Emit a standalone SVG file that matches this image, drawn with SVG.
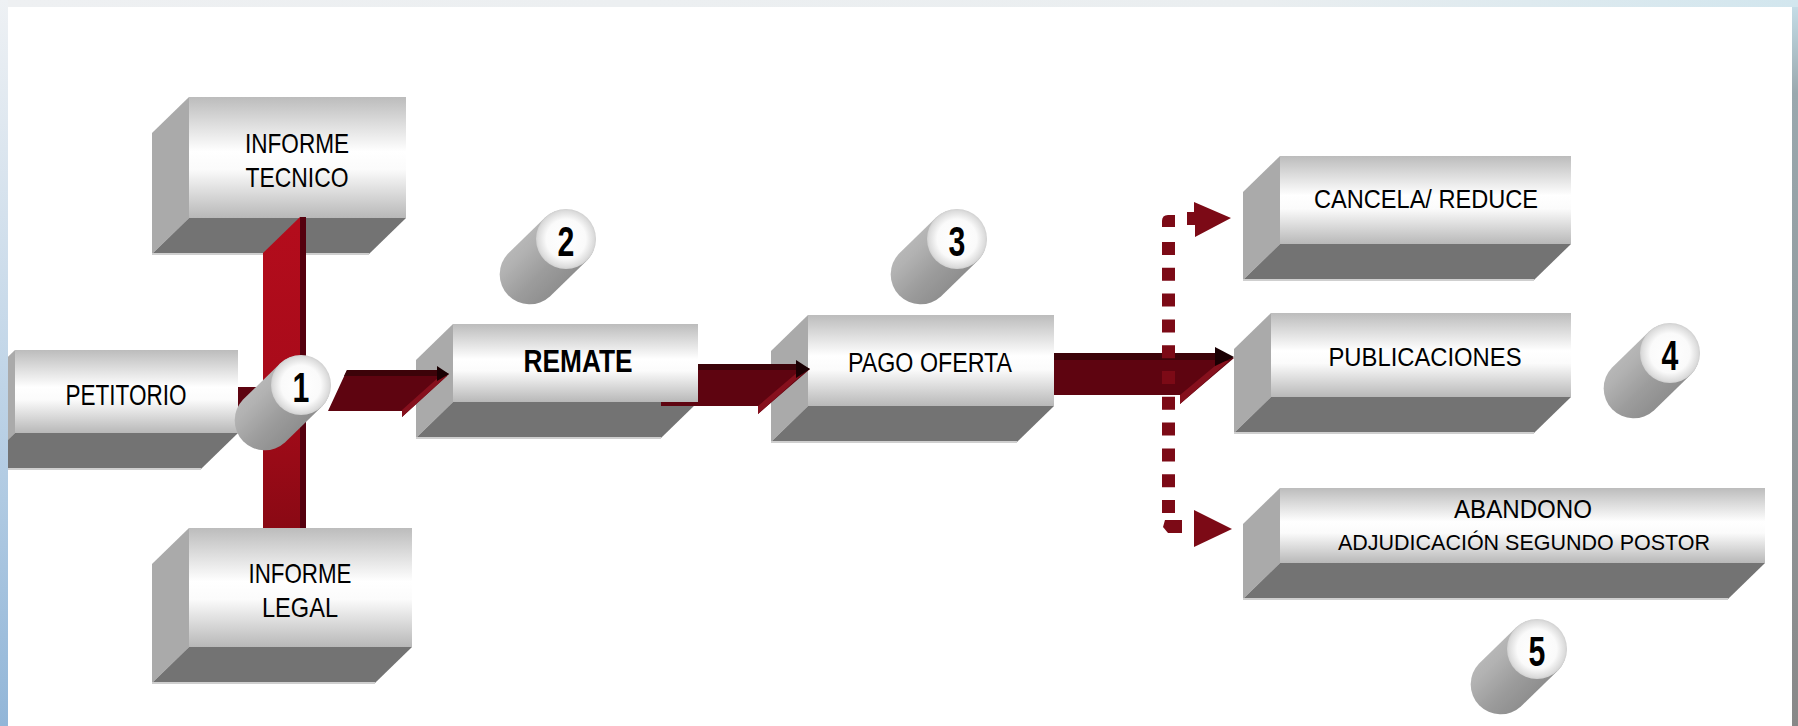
<svg xmlns="http://www.w3.org/2000/svg" width="1798" height="726" viewBox="0 0 1798 726">
<style>
.front{fill:url(#gFront)}
.side{fill:#aaaaaa}
.bot{fill:#737373}
.edge{stroke:#cfcfcf;stroke-width:2;fill:none}
.lbl{font-family:"Liberation Sans",Arial,sans-serif;fill:#000;text-anchor:middle}
.num{font-family:"Liberation Sans",Arial,sans-serif;font-weight:bold;font-size:42px;fill:#000;text-anchor:middle}
.band{fill:#5e0410}
.btop{fill:#3c0309}
.bhead{fill:#86101d}
.btip{fill:#1a0003}
.dot{fill:#7c0a16}
.cylbody{fill:url(#gCylBody)}
.cap{fill:url(#gCap)}
</style>
<defs>
<linearGradient id="gFront" x1="0" y1="0" x2="0" y2="1">
<stop offset="0" stop-color="#bcbcbc"/>
<stop offset="0.45" stop-color="#ffffff"/>
<stop offset="0.6" stop-color="#fbfbfb"/>
<stop offset="1" stop-color="#b8b8b8"/>
</linearGradient>
<linearGradient id="gCylBody" x1="0" y1="0" x2="1" y2="1">
<stop offset="0" stop-color="#c8c8c8"/>
<stop offset="0.35" stop-color="#b2b2b2"/>
<stop offset="0.55" stop-color="#9c9c9c"/>
<stop offset="0.78" stop-color="#8a8a8a"/>
<stop offset="1" stop-color="#a4a4a4"/>
</linearGradient>
<radialGradient id="gCap" cx="0.5" cy="0.5" r="0.55">
<stop offset="0" stop-color="#ffffff"/>
<stop offset="0.6" stop-color="#fafafa"/>
<stop offset="0.85" stop-color="#dcdcdc"/>
<stop offset="1" stop-color="#bdbdbd"/>
</radialGradient>
<linearGradient id="gBar" x1="0" y1="0" x2="0" y2="1">
<stop offset="0" stop-color="#b40c1c"/>
<stop offset="0.55" stop-color="#a80b1a"/>
<stop offset="1" stop-color="#8a0914"/>
</linearGradient>
<linearGradient id="gLeft" x1="0" y1="0" x2="0" y2="1">
<stop offset="0" stop-color="#eef1f4"/>
<stop offset="0.5" stop-color="#c2d6e8"/>
<stop offset="1" stop-color="#92b6d8"/>
</linearGradient>
<linearGradient id="gRight" x1="0" y1="0" x2="0" y2="1">
<stop offset="0" stop-color="#c4dce6"/>
<stop offset="0.12" stop-color="#9aa8ae"/>
<stop offset="1" stop-color="#888888"/>
</linearGradient>
<linearGradient id="gTop" x1="0" y1="0" x2="1" y2="0">
<stop offset="0" stop-color="#eef0f2"/>
<stop offset="0.7" stop-color="#eaeef0"/>
<stop offset="1" stop-color="#d2e6ee"/>
</linearGradient>
<path id="cylBodyShape" d="M-20.9,-21.5 L-57.9,14.5 A30,30 0 0 0 -16.1,57.5 L20.9,21.5 A30,30 0 0 0 -20.9,-21.5 Z"/>
</defs>

<rect x="0" y="0" width="1798" height="726" fill="#ffffff"/>

<g id="informe-tecnico">
<polygon class="side" points="189,97 189,218 152,254 152,133"/>
<polygon class="bot" points="189,218 406,218 369,254 152,254"/>
<line class="edge" x1="152" y1="254" x2="369" y2="254"/>
<rect class="front" x="189" y="97" width="217" height="121"/>
<text class="lbl" x="297" y="153" font-size="28" textLength="104" lengthAdjust="spacingAndGlyphs">INFORME</text>
<text class="lbl" x="297" y="187" font-size="28" textLength="103" lengthAdjust="spacingAndGlyphs">TECNICO</text>
</g>

<g id="petitorio">
<polygon class="side" points="15,350 15,433 -22,469 -22,386"/>
<polygon class="bot" points="15,433 238,433 201,469 -22,469"/>
<line class="edge" x1="0" y1="469" x2="201" y2="469"/>
<rect class="front" x="15" y="350" width="223" height="83"/>
<text class="lbl" x="126" y="405" font-size="29" textLength="121" lengthAdjust="spacingAndGlyphs">PETITORIO</text>
</g>

<g id="informe-legal">
<polygon class="side" points="189,528 189,647 152,683 152,564"/>
<polygon class="bot" points="189,647 412,647 375,683 152,683"/>
<line class="edge" x1="152" y1="683" x2="375" y2="683"/>
<rect class="front" x="189" y="528" width="223" height="119"/>
<text class="lbl" x="300" y="583" font-size="28" textLength="103" lengthAdjust="spacingAndGlyphs">INFORME</text>
<text class="lbl" x="300" y="617" font-size="28" textLength="76" lengthAdjust="spacingAndGlyphs">LEGAL</text>
</g>

<g id="remate">
<polygon class="side" points="453,324 453,402 416,438 416,360"/>
<polygon class="bot" points="453,402 698,402 661,438 416,438"/>
<line class="edge" x1="416" y1="438" x2="661" y2="438"/>
<rect class="front" x="453" y="324" width="245" height="78"/>
<text class="lbl" x="578" y="372" font-size="32" font-weight="bold" textLength="109" lengthAdjust="spacingAndGlyphs">REMATE</text>
</g>

<g id="pago-oferta">
<polygon class="side" points="808,315 808,406 771,442 771,351"/>
<polygon class="bot" points="808,406 1054,406 1017,442 771,442"/>
<line class="edge" x1="771" y1="442" x2="1017" y2="442"/>
<rect class="front" x="808" y="315" width="246" height="91"/>
<text class="lbl" x="930" y="372" font-size="27" textLength="164" lengthAdjust="spacingAndGlyphs">PAGO OFERTA</text>
</g>

<g id="cancela-reduce">
<polygon class="side" points="1280,156 1280,244 1243,280 1243,192"/>
<polygon class="bot" points="1280,244 1571,244 1534,280 1243,280"/>
<line class="edge" x1="1243" y1="280" x2="1534" y2="280"/>
<rect class="front" x="1280" y="156" width="291" height="88"/>
<text class="lbl" x="1426" y="208" font-size="25" textLength="224" lengthAdjust="spacingAndGlyphs">CANCELA/ REDUCE</text>
</g>

<g id="publicaciones">
<polygon class="side" points="1271,313 1271,397 1234,433 1234,349"/>
<polygon class="bot" points="1271,397 1571,397 1534,433 1234,433"/>
<line class="edge" x1="1234" y1="433" x2="1534" y2="433"/>
<rect class="front" x="1271" y="313" width="300" height="84"/>
<text class="lbl" x="1425" y="366" font-size="26" textLength="193" lengthAdjust="spacingAndGlyphs">PUBLICACIONES</text>
</g>

<g id="abandono">
<polygon class="side" points="1280,488 1280,563 1243,599 1243,524"/>
<polygon class="bot" points="1280,563 1765,563 1728,599 1243,599"/>
<line class="edge" x1="1243" y1="599" x2="1728" y2="599"/>
<rect class="front" x="1280" y="488" width="485" height="75"/>
<text class="lbl" x="1523" y="518" font-size="25" textLength="138" lengthAdjust="spacingAndGlyphs">ABANDONO</text>
<text class="lbl" x="1524" y="550" font-size="22" textLength="372" lengthAdjust="spacingAndGlyphs">ADJUDICACIÓN SEGUNDO POSTOR</text>
</g>

<g id="connectors">
<polygon fill="url(#gBar)" points="263,253 300,217 300,528 263,528"/>
<polygon fill="#55000e" points="300,217 306,217 306,528 300,528"/>
<rect class="band" x="238" y="387" width="62" height="25"/>
<polygon class="band" points="328,411 347,370 441,370 449,374 402,417 402,411"/>
<polygon class="btop" points="347,370 441,370 444,376 344,376"/>
<polygon class="bhead" points="402,417 447,376 440,376 402,410"/>
<polygon class="btip" points="437,366 449,374 437,381"/>
<polygon class="band" points="661,402 698,402 698,364 800,364 810,369 758,414 758,406 661,406"/>
<polygon class="btop" points="698,364 800,364 803,370 698,370"/>
<polygon class="bhead" points="758,414 806,371 799,371 758,406"/>
<polygon class="btip" points="796,360 810,369 796,378"/>
<polygon class="band" points="1054,353 1224,353 1234,358 1180,404 1180,395 1054,395"/>
<polygon class="btop" points="1054,353 1224,353 1227,360 1054,360"/>
<polygon class="bhead" points="1180,404 1229,361 1221,361 1180,395"/>
<polygon class="btip" points="1215,347 1234,357 1215,366"/>
<path d="M1168.5,242 V513" stroke="#7c0a16" stroke-width="13" stroke-dasharray="13 12.8" fill="none"/>
<path class="dot" d="M1162,227 V221 Q1162,215 1168,215 H1175 V227 Z"/>
<polygon class="dot" points="1165,520 1182,520 1182,533 1168,533 1163,527"/>
<polygon class="dot" points="1187,212 1194,212 1194,202 1231,218 1195,237 1195,225 1187,225"/>
<polygon class="dot" points="1194,510 1232,529 1194,547"/>
</g>

<g id="step-1" transform="translate(301,385)">
<use href="#cylBodyShape" class="cylbody"/>
<circle class="cap" r="30"/>
<text class="num" transform="scale(0.72,1)" x="0" y="17">1</text>
</g>
<g id="step-2" transform="translate(566,239)">
<use href="#cylBodyShape" class="cylbody"/>
<circle class="cap" r="30"/>
<text class="num" transform="scale(0.72,1)" x="0" y="17">2</text>
</g>
<g id="step-3" transform="translate(957,239)">
<use href="#cylBodyShape" class="cylbody"/>
<circle class="cap" r="30"/>
<text class="num" transform="scale(0.72,1)" x="0" y="17">3</text>
</g>
<g id="step-4" transform="translate(1670,353)">
<use href="#cylBodyShape" class="cylbody"/>
<circle class="cap" r="30"/>
<text class="num" transform="scale(0.72,1)" x="0" y="17">4</text>
</g>
<g id="step-5" transform="translate(1537,649)">
<use href="#cylBodyShape" class="cylbody"/>
<circle class="cap" r="30"/>
<text class="num" transform="scale(0.72,1)" x="0" y="17">5</text>
</g>

<rect x="0" y="0" width="1798" height="7" fill="url(#gTop)"/>
<rect x="0" y="0" width="8" height="726" fill="url(#gLeft)"/>
<rect x="1792" y="7" width="6" height="719" fill="url(#gRight)"/>
</svg>
